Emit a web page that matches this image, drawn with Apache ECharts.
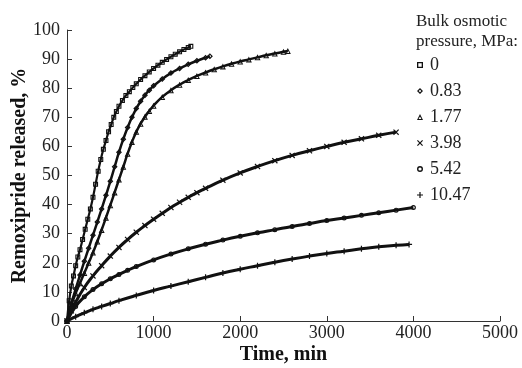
<!DOCTYPE html>
<html>
<head>
<meta charset="utf-8">
<script src="https://cdn.jsdelivr.net/npm/echarts@6/dist/echarts.min.js"></script>
<style>
  html, body { margin: 0; padding: 0; background: #fff; }
  #chart { width: 522px; height: 368px; }
</style>
</head>
<body>
<div id="chart"></div>
<script>
// pressures (legend names)
const pressures = ['0', '0.83', '1.77', '3.98', '5.42', '10.47'];
const xTicks = [0, 1000, 2000, 3000, 4000, 5000];
const yTicks = [0, 10, 20, 30, 40, 50, 60, 70, 80, 90, 100];

// 0 MPa
const t0 = [0, 25, 50, 75, 100, 125, 150, 180, 210, 240, 270, 300, 330, 360, 390, 420, 450, 480, 510, 540, 570, 600, 640, 680, 720, 760, 800, 850, 900, 950, 1000, 1050, 1100, 1150, 1200, 1250, 1300, 1350, 1400, 1430];
const y0 = [0, 7, 12, 15.5, 19, 22, 24.5, 28, 31.5, 35, 38.5, 42.5, 47, 51.5, 55.5, 59, 62, 65, 67.5, 70, 72, 73.8, 75.8, 77.5, 78.8, 80.2, 81.5, 83, 84.3, 85.6, 86.8, 87.9, 88.9, 89.9, 90.8, 91.7, 92.5, 93.3, 94, 94.4];
// 0.83 MPa
const t1 = [0, 50, 100, 150, 200, 250, 300, 350, 400, 450, 500, 550, 600, 650, 700, 750, 800, 850, 900, 950, 1000, 1100, 1200, 1300, 1400, 1500, 1600, 1650];
const y1 = [0, 6, 11, 15.8, 20.5, 25, 29.5, 34, 38.5, 43.2, 48, 53, 58, 62.5, 66.5, 70, 73, 75.5, 77.6, 79.3, 80.8, 83.2, 85.2, 86.8, 88.2, 89.4, 90.5, 91];
// 1.77 MPa
const t2 = [0, 50, 100, 150, 200, 250, 300, 350, 400, 450, 500, 550, 600, 650, 700, 750, 800, 850, 900, 950, 1000, 1100, 1200, 1300, 1400, 1500, 1600, 1700, 1800, 1900, 2000, 2100, 2200, 2300, 2400, 2500, 2550];
const y2 = [0, 5.5, 9.5, 13, 16.5, 20, 23.5, 27.3, 31.3, 35.5, 39.8, 44.2, 48.6, 53, 57.5, 61.5, 65, 67.8, 70.2, 72.2, 74, 77, 79.3, 81.2, 82.8, 84.2, 85.4, 86.5, 87.5, 88.4, 89.2, 89.9, 90.6, 91.3, 91.9, 92.5, 92.8];
// 3.98 MPa
const t3 = [0, 50, 100, 200, 300, 400, 500, 600, 700, 800, 900, 1000, 1100, 1200, 1300, 1400, 1500, 1600, 1800, 2000, 2200, 2400, 2600, 2800, 3000, 3200, 3400, 3600, 3800];
const y3 = [0, 3.5, 6.5, 11.5, 15.5, 19, 22.3, 25.3, 28, 30.5, 32.8, 35, 37, 39, 40.8, 42.5, 44.1, 45.6, 48.4, 50.9, 53.1, 55.1, 56.9, 58.5, 60, 61.4, 62.6, 63.8, 64.9];
// 5.42 MPa
const t4 = [0, 100, 200, 300, 400, 500, 600, 700, 800, 1000, 1200, 1400, 1600, 1800, 2000, 2200, 2400, 2600, 2800, 3000, 3200, 3400, 3600, 3800, 4000];
const y4 = [0, 5, 8.3, 10.8, 12.8, 14.5, 16, 17.4, 18.7, 21, 23, 24.8, 26.4, 27.8, 29.1, 30.3, 31.4, 32.5, 33.5, 34.5, 35.4, 36.3, 37.2, 38.1, 39];
// 10.47 MPa
const t5 = [0, 100, 200, 300, 400, 500, 600, 800, 1000, 1200, 1400, 1600, 1800, 2000, 2200, 2400, 2600, 2800, 3000, 3200, 3400, 3600, 3800, 3950];
const y5 = [0, 1.5, 2.8, 4, 5, 6, 7, 8.8, 10.5, 12, 13.5, 15, 16.5, 17.8, 19, 20.2, 21.3, 22.3, 23.2, 24, 24.8, 25.5, 26, 26.3];

const times = [t0, t1, t2, t3, t4, t5];
const values = [y0, y1, y2, y3, y4, y5];

// hollow marker outlines drawn as filled rings
const squarePath = 'path://M0,0H10V10H0Z M2.2,2.2V7.8H7.8V2.2Z';
const diamondPath = 'path://M5,0L10,5L5,10L0,5Z M5,2.8L2.8,5L5,7.2L7.2,5Z';
const trianglePath = 'path://M5,0L10,10L0,10Z M5,4L2.6,8.3L7.4,8.3Z';
const crossPath = 'path://M1.4,0L5,3.6L8.6,0L10,1.4L6.4,5L10,8.6L8.6,10L5,6.4L1.4,10L0,8.6L3.6,5L0,1.4Z';
const circlePath = 'path://M5,0A5,5 0 1,1 5,10A5,5 0 1,1 5,0Z M5,2.3A2.7,2.7 0 1,0 5,7.7A2.7,2.7 0 1,0 5,2.3Z';
const plusPath = 'path://M4,0H6V4H10V6H6V10H4V6H0V4H4Z';
const symbols = [squarePath, diamondPath, trianglePath, crossPath, circlePath, plusPath];
const symbolSizes = [5, 6, 6, 6, 5, 6];
const lineWidths = [2.2, 2.5, 2.5, 3, 3, 3];

const font = '"Liberation Serif", "Times New Roman", serif';

const chart = echarts.init(document.getElementById('chart'));

const series = pressures.map((name, i) => ({
  name: name,
  type: 'line',
  smooth: true,
  showAllSymbol: true,
  symbol: symbols[i],
  symbolSize: symbolSizes[i],
  itemStyle: { color: '#111' },
  lineStyle: { color: '#111', width: lineWidths[i] },
  emphasis: { disabled: true },
  data: times[i].map((t, j) => [t, values[i][j]]),
}));

const option = {
  animation: false,
  textStyle: { fontFamily: font },
  title: {
    text: 'Bulk osmotic\npressure, MPa:',
    left: 411,
    top: 7,
    textStyle: {
      fontFamily: font,
      fontSize: 17,
      fontWeight: 'normal',
      color: '#222',
      lineHeight: 20,
    },
  },
  legend: {
    orient: 'vertical',
    left: 412,
    top: 51,
    itemWidth: 6,
    itemHeight: 6,
    itemGap: 8,
    selectedMode: false,
    textStyle: { fontFamily: font, fontSize: 18, color: '#222', lineHeight: 17, padding: [0, 0, 0, 2] },
    data: pressures.map((name, i) => ({
      name: name,
      icon: symbols[i],
      itemStyle: { color: '#111' },
    })),
  },
  grid: {
    left: 67,
    top: 30,
    width: 433,
    height: 291,
    outerBoundsMode: 'none',
  },
  xAxis: {
    type: 'value',
    min: xTicks[0],
    max: xTicks[xTicks.length - 1],
    interval: 1000,
    name: 'Time, min',
    nameLocation: 'middle',
    nameGap: 24,
    nameMoveOverlap: false,
    nameTextStyle: { fontFamily: font, fontSize: 20, fontWeight: 'bold', color: '#111' },
    axisLine: { lineStyle: { color: '#333', width: 1 } },
    axisTick: { inside: true, length: 5, lineStyle: { color: '#333' } },
    axisLabel: { fontFamily: font, fontSize: 18, color: '#222', margin: 3, formatter: (v) => String(v) },
    splitLine: { show: false },
  },
  yAxis: {
    type: 'value',
    min: yTicks[0],
    max: yTicks[yTicks.length - 1],
    interval: 10,
    name: 'Remoxipride released, %',
    nameLocation: 'middle',
    nameGap: 37,
    nameMoveOverlap: false,
    nameTextStyle: { fontFamily: font, fontSize: 20, fontWeight: 'bold', color: '#111' },
    axisLine: { show: true, lineStyle: { color: '#333', width: 1 } },
    axisTick: { show: true, inside: true, length: 5, lineStyle: { color: '#333' } },
    axisLabel: { fontFamily: font, fontSize: 18, color: '#222', margin: 7, formatter: (v) => String(v) },
    splitLine: { show: false },
  },
  series: series,
};

chart.setOption(option);
</script>
</body>
</html>
